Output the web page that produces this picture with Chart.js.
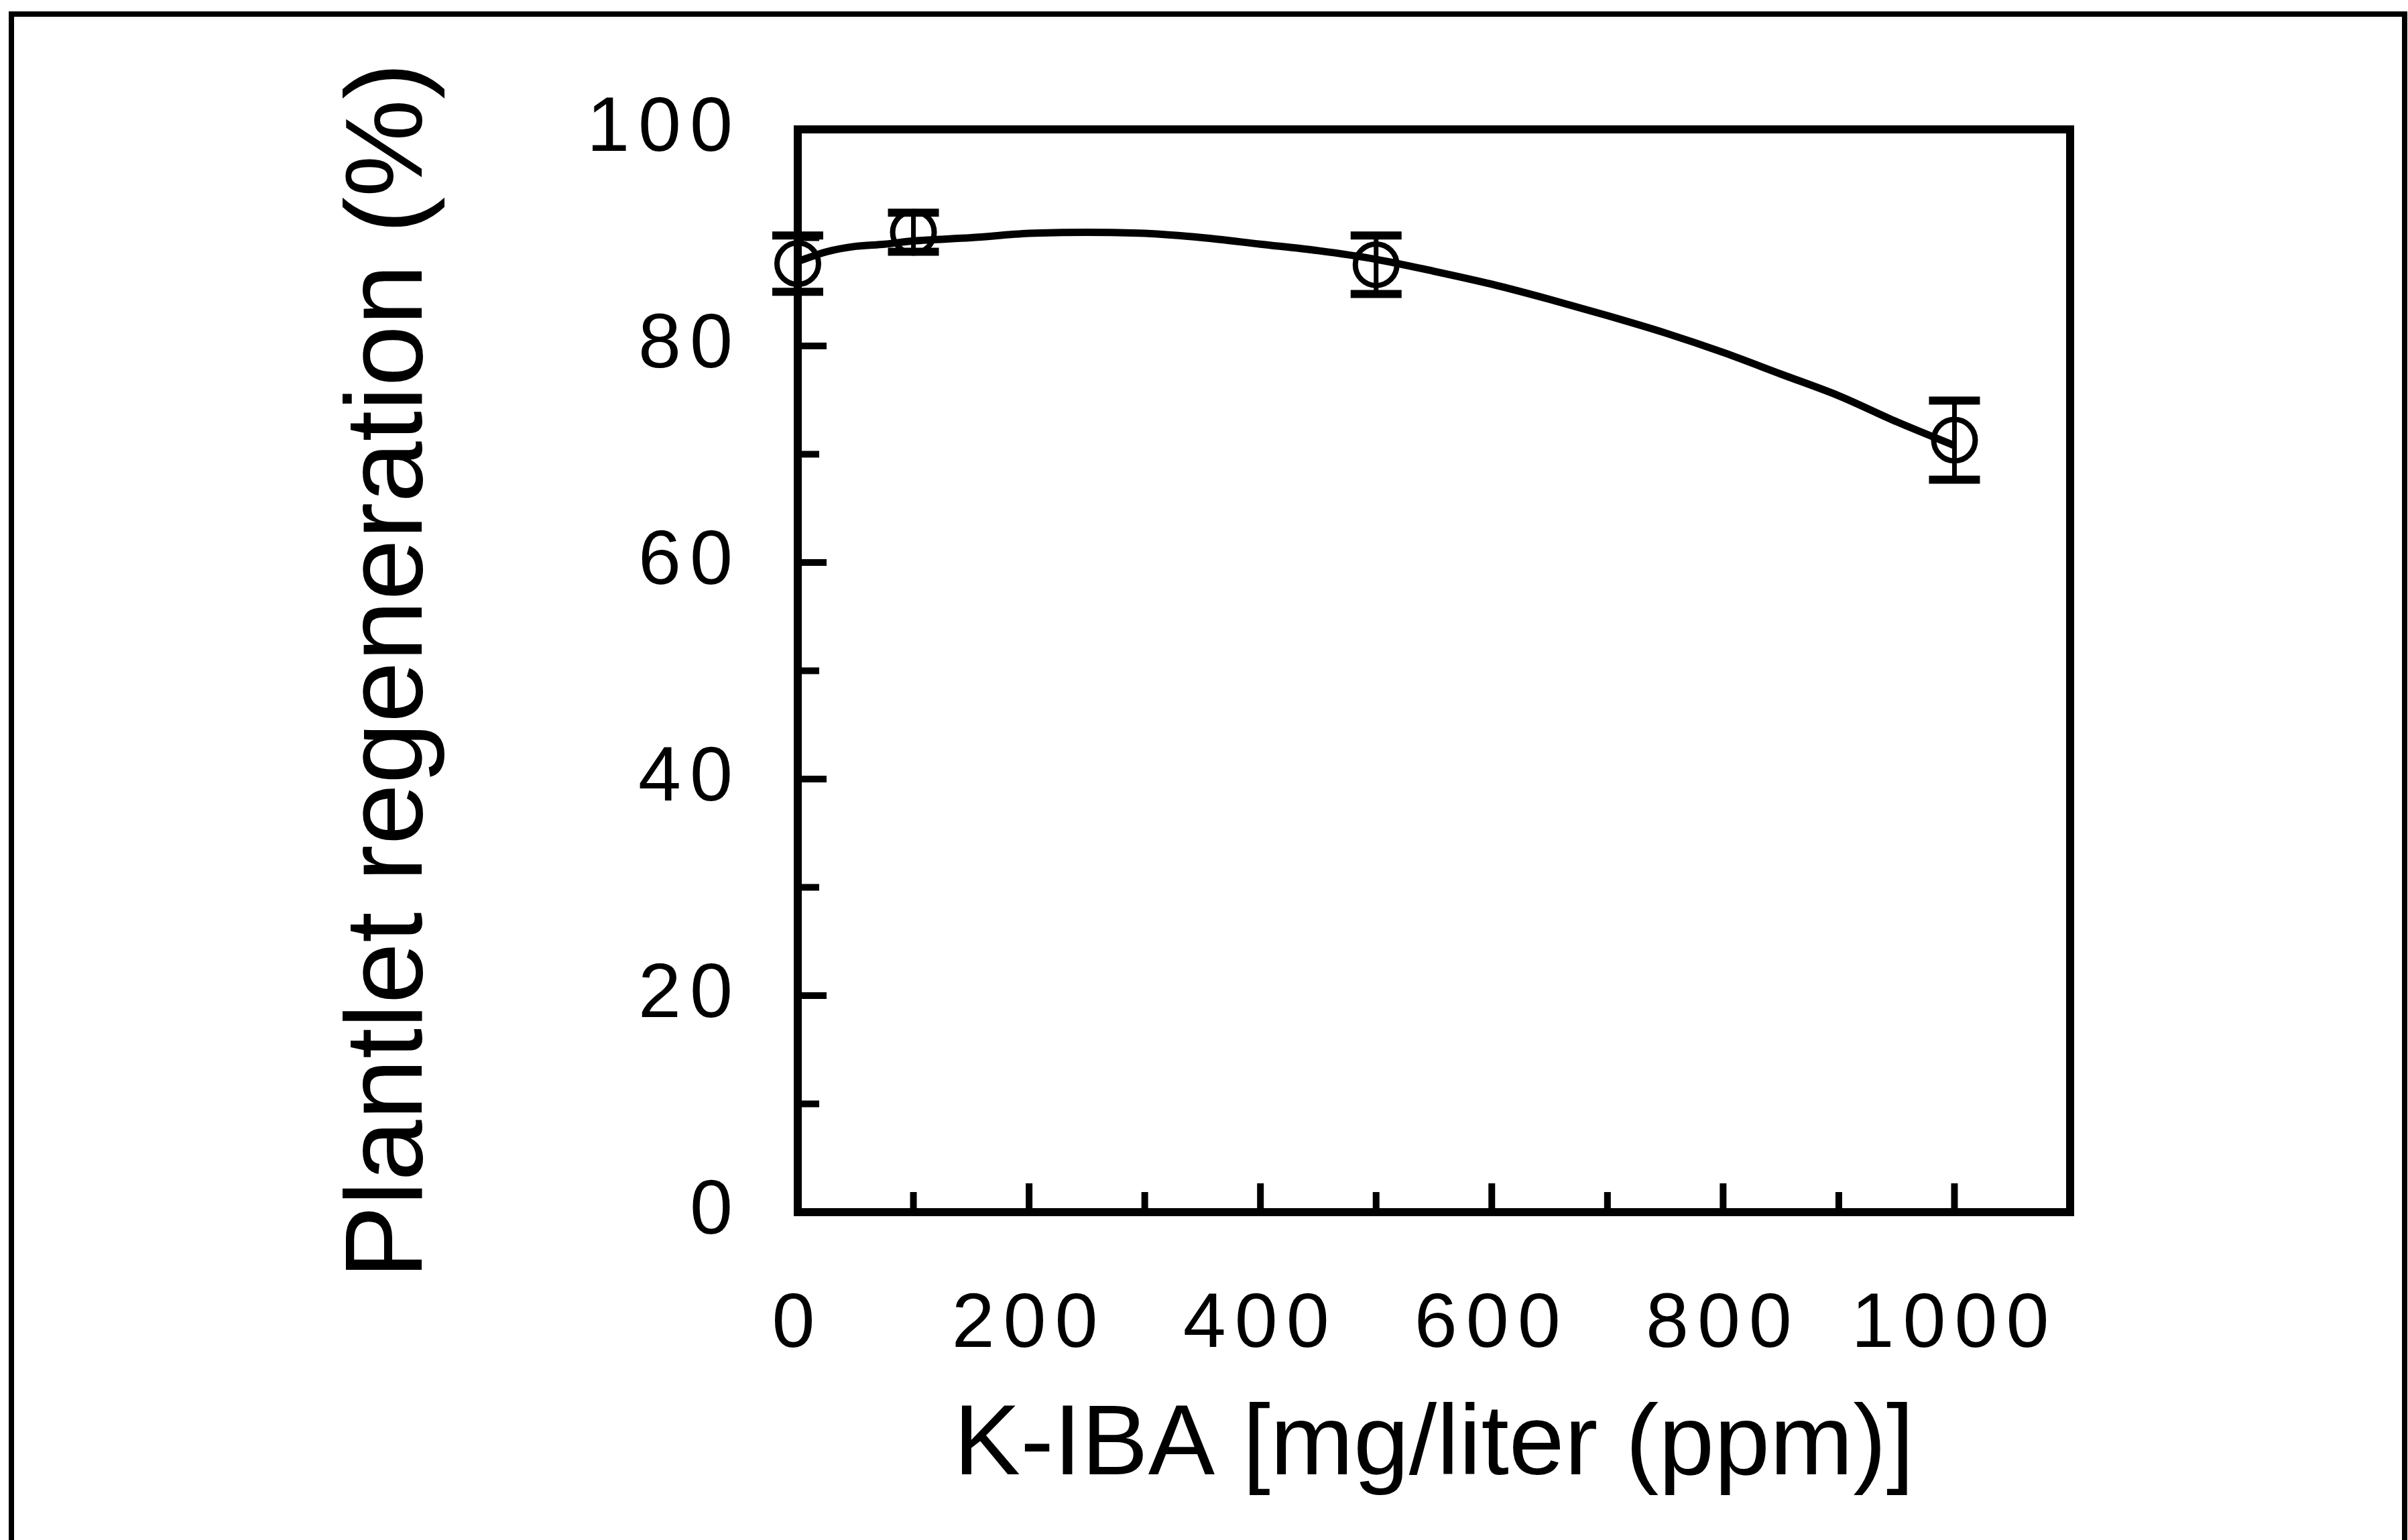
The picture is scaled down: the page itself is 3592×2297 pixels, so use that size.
<!DOCTYPE html>
<html>
<head>
<meta charset="utf-8">
<script src="https://cdn.jsdelivr.net/npm/chart.js@4"></script>
<style>
  html, body { margin: 0; padding: 0; background: #ffffff; }
  #wrap { width: 3592px; height: 2297px; position: relative; }
  canvas { display: block; }
</style>
</head>
<body>
<div id="wrap"><canvas id="c" width="3592" height="2297"></canvas></div>
<script>
// ---- data ----
const doses = [0, 100, 500, 1000];                 // K-IBA, mg/liter
const regeneration = [87.6, 90.5, 87.5, 71.3];     // plantlet regeneration, %
const errors = [2.6, 1.8, 2.7, 3.65];              // +/- error bar half-length, %

const fitX = [0, 25, 50, 75, 100, 150, 200, 250, 300, 350, 400, 450, 500, 550, 600, 650, 700, 750, 800, 850, 900, 950, 1000];
const fitY = [87.8, 88.7, 89.2, 89.4, 89.7, 90.0, 90.4, 90.5, 90.4, 90.0, 89.4, 88.8, 88.0, 86.9, 85.7, 84.3, 82.8, 81.2, 79.4, 77.4, 75.4, 73.0, 70.8];

const xTickLabels = ['0', '200', '400', '600', '800', '1000'];
const yTickLabels = ['0', '20', '40', '60', '80', '100'];
const xTitle = 'K-IBA [mg/liter (ppm)]';
const yTitle = 'Plantlet regeneration (%)';

const fitPoints = fitX.map((v, i) => ({ x: v, y: fitY[i] }));
const dataPoints = doses.map((v, i) => ({ x: v, y: regeneration[i] }));

const FONT = "'Liberation Sans', Arial, Helvetica, sans-serif";

const decor = {
  id: 'decor',
  afterDatasetsDraw(chart) {
    const { ctx, scales: { x, y } } = chart;
    ctx.save();
    ctx.strokeStyle = '#000';
    ctx.lineCap = 'butt';
    doses.forEach((d, i) => {
      const px = x.getPixelForValue(d);
      const top = y.getPixelForValue(regeneration[i] + errors[i]);
      const bot = y.getPixelForValue(regeneration[i] - errors[i]);
      ctx.lineWidth = 7;
      ctx.beginPath();
      ctx.moveTo(px, top); ctx.lineTo(px, bot);
      ctx.stroke();
      ctx.lineWidth = 12;
      ctx.beginPath();
      ctx.moveTo(px - 38, top); ctx.lineTo(px + 38, top);
      ctx.moveTo(px - 38, bot); ctx.lineTo(px + 38, bot);
      ctx.stroke();
    });
    ctx.restore();
    // spaced-out tick digits (labels are drawn after the datasets)
    ctx.letterSpacing = '13px';
  },
  afterDraw(chart) {
    const { ctx, chartArea: a, scales: { x, y } } = chart;
    ctx.letterSpacing = '0px';
    ctx.save();
    ctx.strokeStyle = '#000';
    ctx.lineWidth = 12;
    ctx.strokeRect(a.left, a.top, a.right - a.left, a.bottom - a.top);
    ctx.lineWidth = 10;
    ctx.beginPath();
    x.ticks.forEach(t => {
      if (t.value <= x.min || t.value >= x.max) return;
      const px = x.getPixelForValue(t.value);
      const len = xTickLabels.includes(String(t.value)) ? 43 : 30;
      ctx.moveTo(px, a.bottom); ctx.lineTo(px, a.bottom - len);
    });
    y.ticks.forEach(t => {
      if (t.value <= y.min || t.value >= y.max) return;
      const py = y.getPixelForValue(t.value);
      const len = yTickLabels.includes(String(t.value)) ? 43 : 32;
      ctx.moveTo(a.left, py); ctx.lineTo(a.left + len, py);
    });
    ctx.stroke();
    // outer frame of the figure
    ctx.lineWidth = 8;
    ctx.beginPath();
    ctx.moveTo(17, 2297); ctx.lineTo(17, 21); ctx.lineTo(3587, 21); ctx.lineTo(3587, 2297);
    ctx.stroke();
    ctx.restore();
  }
};

new Chart(document.getElementById('c'), {
  type: 'scatter',
  data: {
    datasets: [
      {
        label: 'fit',
        data: fitPoints,
        showLine: true,
        cubicInterpolationMode: 'monotone',
        borderColor: '#000',
        borderWidth: 11,
        pointRadius: 0,
        fill: false,
        clip: false
      },
      {
        label: 'measured',
        data: dataPoints,
        showLine: false,
        pointStyle: 'circle',
        pointRadius: 31,
        pointBorderWidth: 8,
        pointBorderColor: '#000',
        pointBackgroundColor: 'rgba(0,0,0,0)',
        borderColor: '#000',
        backgroundColor: 'rgba(0,0,0,0)',
        clip: false
      }
    ]
  },
  options: {
    responsive: false,
    animation: false,
    devicePixelRatio: 1,
    layout: { padding: { top: 193, right: 504, left: 0, bottom: 0 } },
    plugins: { legend: { display: false }, tooltip: { enabled: false } },
    scales: {
      x: {
        type: 'linear',
        min: 0, max: 1100,
        grid: { display: false, drawTicks: false },
        border: { display: false },
        ticks: {
          stepSize: 100,
          autoSkip: false,
          maxRotation: 0,
          padding: 100,
          z: 1,
          color: '#000',
          font: { family: FONT, size: 115 },
          callback: v => xTickLabels.includes(String(v)) ? String(v) : ''
        },
        title: {
          display: true,
          text: xTitle,
          color: '#000',
          font: { family: FONT, size: 149 },
          padding: { top: 0, bottom: 50 }
        },
        afterFit: s => { s.height = 489; }
      },
      y: {
        type: 'linear',
        min: 0, max: 100,
        grid: { display: false, drawTicks: false },
        border: { display: false },
        ticks: {
          stepSize: 10,
          autoSkip: false,
          padding: 84,
          z: 1,
          color: '#000',
          font: { family: FONT, size: 115 },
          callback: v => yTickLabels.includes(String(v)) ? String(v) : ''
        },
        title: {
          display: true,
          text: yTitle,
          color: '#000',
          font: { family: FONT, size: 164 },
          padding: { top: 485, bottom: 0 }
        },
        afterFit: s => { s.width = 1190; }
      }
    }
  },
  plugins: [decor]
});
</script>
</body>
</html>
